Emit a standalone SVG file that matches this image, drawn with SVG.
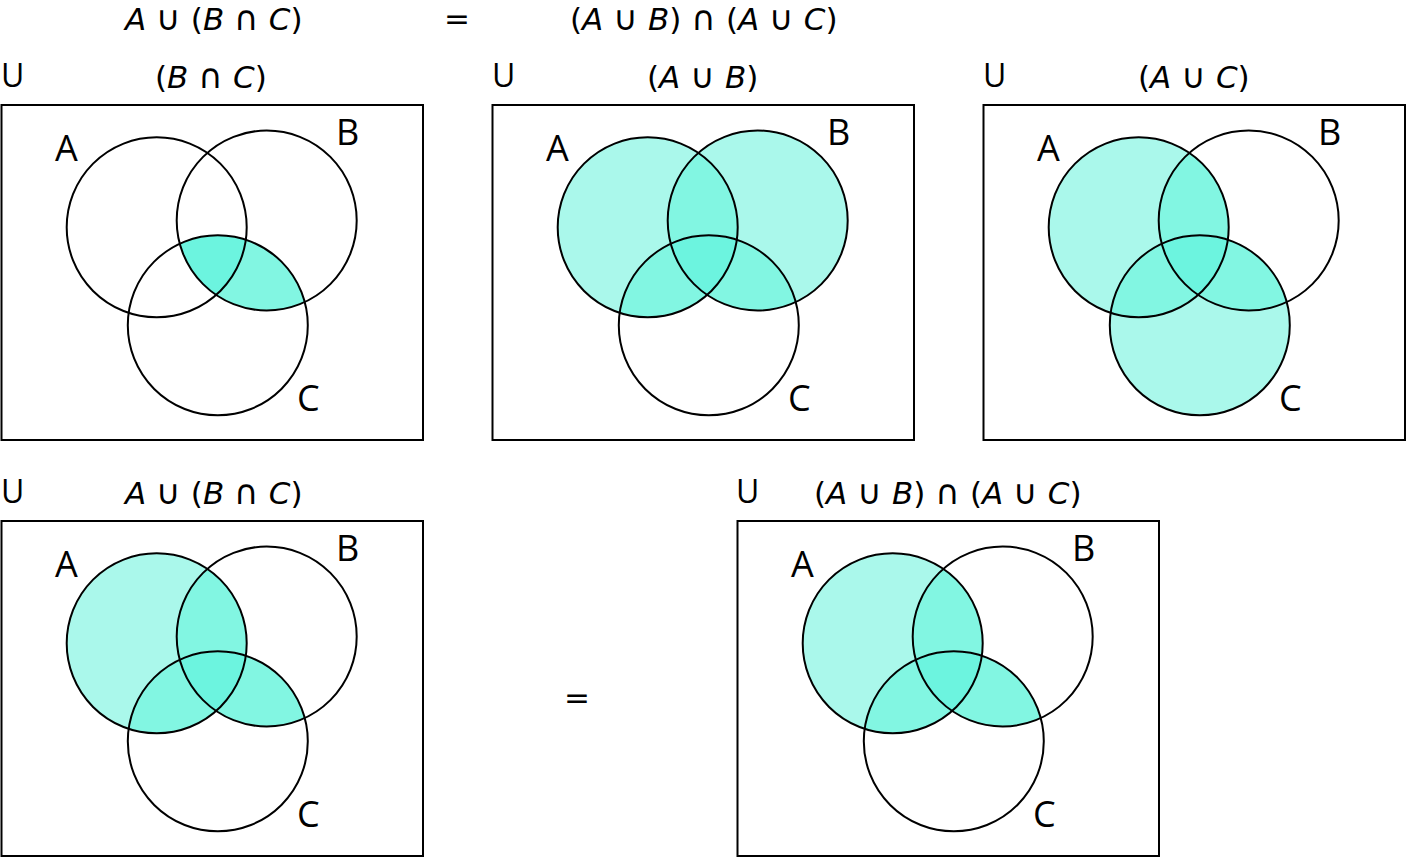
<svg xmlns="http://www.w3.org/2000/svg" width="1406" height="857" viewBox="0 0 1406 857">
<style>
text{font-family:"Open Sans","DejaVu Sans",sans-serif;fill:#000}
.t{font-family:"DejaVu Sans",sans-serif;font-size:31px}
.o{font-size:34px}
.u{font-size:32px}
.l{font-size:36px}
.i{font-style:italic}
.box{fill:#fff;stroke:#000;stroke-width:2}
.c{fill:none;stroke:#000;stroke-width:2}
.lt{fill:#aaf8eb}
.md{fill:#82f6e2}
.dk{fill:#6cf4df}
</style>
<defs>
<circle id="cA" cx="156.7" cy="227.3" r="90"/>
<circle id="cB" cx="266.7" cy="220.5" r="90"/>
<circle id="cC" cx="217.8" cy="325.3" r="90"/>
<clipPath id="kA"><use href="#cA"/></clipPath>
<clipPath id="kB"><use href="#cB"/></clipPath>
<clipPath id="kC"><use href="#cC"/></clipPath>
<g id="outl">
<use href="#cA" class="c"/><use href="#cB" class="c"/><use href="#cC" class="c"/>
</g>
<g id="labs">
<text class="l" x="55" y="161">A</text>
<text class="l" x="336" y="145">B</text>
<text class="l" x="297" y="411">C</text>
</g>
<g id="ab"><use href="#cA" class="md" clip-path="url(#kB)"/></g>
<g id="ac"><use href="#cA" class="md" clip-path="url(#kC)"/></g>
<g id="bc"><use href="#cB" class="md" clip-path="url(#kC)"/></g>
<g id="abc"><g clip-path="url(#kA)"><use href="#cB" class="dk" clip-path="url(#kC)"/></g></g>
</defs>

<g id="titles">
<text class="t" x="125" y="30"><tspan class="i">A</tspan> <tspan class="o">∪</tspan> (<tspan class="i">B</tspan> <tspan class="o">∩</tspan> <tspan class="i">C</tspan>)</text>
<text class="t" x="444" y="29">=</text>
<text class="t" x="570" y="30">(<tspan class="i">A</tspan> <tspan class="o">∪</tspan> <tspan class="i">B</tspan>) <tspan class="o">∩</tspan> (<tspan class="i">A</tspan> <tspan class="o">∪</tspan> <tspan class="i">C</tspan>)</text>
<text class="t" x="564" y="708">=</text>
</g>

<g id="panel1">
<text class="u" x="1" y="87">U</text>
<text class="t" x="155" y="88">(<tspan class="i">B</tspan> <tspan class="o">∩</tspan> <tspan class="i">C</tspan>)</text>
<rect class="box" x="1.5" y="105" width="421.5" height="335"/>
<use href="#bc"/><use href="#abc"/>
<use href="#outl"/><use href="#labs"/>
</g>

<g id="panel2">
<text class="u" x="492" y="87">U</text>
<text class="t" x="647" y="88">(<tspan class="i">A</tspan> <tspan class="o">∪</tspan> <tspan class="i">B</tspan>)</text>
<g transform="translate(491,0)">
<rect class="box" x="1.5" y="105" width="421.5" height="335"/>
<use href="#cA" class="lt"/><use href="#cB" class="lt"/>
<use href="#ab"/><use href="#ac"/><use href="#bc"/><use href="#abc"/>
<use href="#outl"/><use href="#labs"/>
</g>
</g>

<g id="panel3">
<text class="u" x="983" y="87">U</text>
<text class="t" x="1138" y="88">(<tspan class="i">A</tspan> <tspan class="o">∪</tspan> <tspan class="i">C</tspan>)</text>
<g transform="translate(982,0)">
<rect class="box" x="1.5" y="105" width="421.5" height="335"/>
<use href="#cA" class="lt"/><use href="#cC" class="lt"/>
<use href="#ab"/><use href="#ac"/><use href="#bc"/><use href="#abc"/>
<use href="#outl"/><use href="#labs"/>
</g>
</g>

<g id="panel4">
<text class="u" x="1" y="503">U</text>
<text class="t" x="125" y="504"><tspan class="i">A</tspan> <tspan class="o">∪</tspan> (<tspan class="i">B</tspan> <tspan class="o">∩</tspan> <tspan class="i">C</tspan>)</text>
<g transform="translate(0,416)">
<rect class="box" x="1.5" y="105" width="421.5" height="335"/>
<use href="#cA" class="lt"/>
<use href="#ab"/><use href="#ac"/><use href="#bc"/><use href="#abc"/>
<use href="#outl"/><use href="#labs"/>
</g>
</g>

<g id="panel5">
<text class="u" x="736" y="503">U</text>
<text class="t" x="814" y="504">(<tspan class="i">A</tspan> <tspan class="o">∪</tspan> <tspan class="i">B</tspan>) <tspan class="o">∩</tspan> (<tspan class="i">A</tspan> <tspan class="o">∪</tspan> <tspan class="i">C</tspan>)</text>
<g transform="translate(736,416)">
<rect class="box" x="1.5" y="105" width="421.5" height="335"/>
<use href="#cA" class="lt"/>
<use href="#ab"/><use href="#ac"/><use href="#bc"/><use href="#abc"/>
<use href="#outl"/><use href="#labs"/>
</g>
</g>
</svg>
